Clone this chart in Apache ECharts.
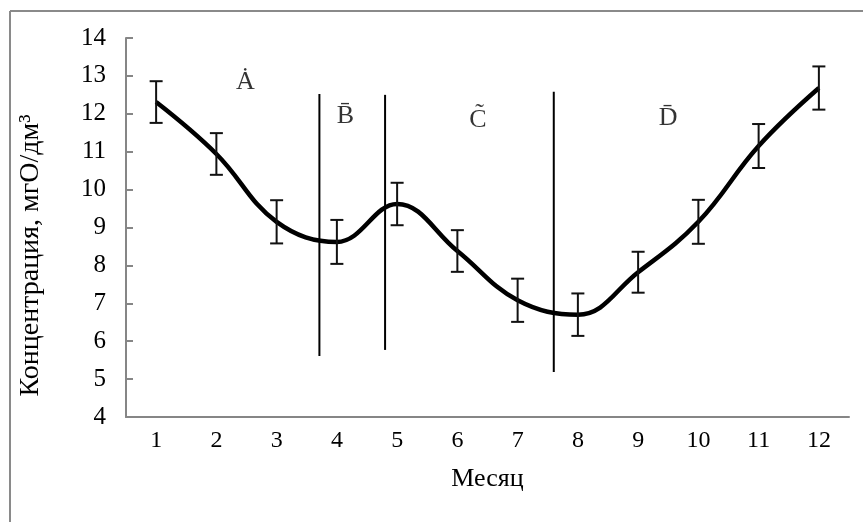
<!DOCTYPE html>
<html>
<head>
<meta charset="utf-8">
<script src="https://cdn.jsdelivr.net/npm/echarts@6/dist/echarts.min.js"></script>
<style>html,body{margin:0;padding:0;background:#fff}#c{width:863px;height:522px}</style>
</head>
<body>
<div id="c"></div>
<script>
// ---- data ----
const months = ['1','2','3','4','5','6','7','8','9','10','11','12'];
const monthNum = [1,2,3,4,5,6,7,8,9,10,11,12];
const concentration = [12.31, 10.94, 9.15, 8.62, 9.62, 8.38, 7.08, 6.70, 7.82, 9.15, 11.15, 12.68];
const errorSize = [0.55, 0.55, 0.57, 0.58, 0.56, 0.55, 0.57, 0.56, 0.54, 0.58, 0.58, 0.57];
const dividerX = [3.71, 4.80, 7.60];
const dividerLow = [5.61, 5.77, 5.19];
const dividerHigh = [12.52, 12.50, 12.58];
const zoneNames = ['A\u0307', 'B\u0304', 'C\u0303', 'D\u0304'];
const zoneX = [2.48, 4.14, 6.34, 9.50];
const zoneY = [12.84, 11.94, 11.84, 11.89];

const font = '"Liberation Serif", "DejaVu Serif", serif';
const chart = echarts.init(document.getElementById('c'), null, {renderer: 'canvas'});

const lineData = monthNum.map((m, i) => [m, concentration[i]]);
const errData = monthNum.map((m, i) => [m, concentration[i] - errorSize[i], concentration[i] + errorSize[i]]);
const divData = dividerX.map((x, i) => [x, dividerLow[i], dividerHigh[i]]);
const zoneData = zoneX.map((x, i) => ({value: [x, zoneY[i]], name: zoneNames[i]}));

chart.setOption({
  animation: false,
  backgroundColor: '#fff',
  graphic: [
    {type: 'line', shape: {x1: 10, y1: 11, x2: 863, y2: 11}, style: {stroke: '#8a8a8a', lineWidth: 2}},
    {type: 'line', shape: {x1: 10, y1: 11, x2: 10, y2: 522}, style: {stroke: '#8a8a8a', lineWidth: 2}}
  ],
  grid: {left: 126, top: 38, right: 14, bottom: 105},
  xAxis: [
    {
      type: 'category', data: months, boundaryGap: true,
      axisLine: {lineStyle: {color: '#868686', width: 2}},
      axisTick: {show: false},
      axisLabel: {color: '#000', fontFamily: font, fontSize: 24, margin: 12},
      name: 'Месяц', nameLocation: 'middle', nameGap: 49,
      nameTextStyle: {color: '#000', fontFamily: font, fontSize: 26}
    },
    {
      type: 'value', min: 0.5, max: 12.5, show: false
    }
  ],
  yAxis: {
    type: 'value', min: 4, max: 14, interval: 1,
    axisLine: {show: true, lineStyle: {color: '#868686', width: 2}},
    axisTick: {show: true, inside: true, length: 7, lineStyle: {color: '#868686', width: 2}},
    splitLine: {show: false},
    axisLabel: {color: '#000', fontFamily: font, fontSize: 25, margin: 20},
    name: 'Концентрация, мгО/дм³', nameLocation: 'middle', nameGap: 81,
    nameTextStyle: {color: '#000', fontFamily: font, fontSize: 28, padding: [0, 56, 0, 0]}
  },
  series: [
    {
      type: 'custom', xAxisIndex: 1, data: divData, z: 2,
      renderItem: function (params, api) {
        const p1 = api.coord([api.value(0), api.value(1)]);
        const p2 = api.coord([api.value(0), api.value(2)]);
        return {type: 'line', shape: {x1: p1[0], y1: p1[1], x2: p2[0], y2: p2[1]},
                style: {stroke: '#000', lineWidth: 2}};
      }
    },
    {
      type: 'line', xAxisIndex: 1, data: lineData, smooth: 0.4,
      symbol: 'none', z: 3,
      lineStyle: {color: '#000', width: 4.5}
    },
    {
      type: 'custom', xAxisIndex: 1, data: errData, z: 4,
      renderItem: function (params, api) {
        const lo = api.coord([api.value(0), api.value(1)]);
        const hi = api.coord([api.value(0), api.value(2)]);
        const w = 6.5;
        const st = {stroke: '#111', lineWidth: 2};
        return {type: 'group', children: [
          {type: 'line', shape: {x1: lo[0], y1: lo[1], x2: hi[0], y2: hi[1]}, style: st},
          {type: 'line', shape: {x1: lo[0] - w, y1: lo[1], x2: lo[0] + w, y2: lo[1]}, style: st},
          {type: 'line', shape: {x1: hi[0] - w, y1: hi[1], x2: hi[0] + w, y2: hi[1]}, style: st}
        ]};
      }
    },
    {
      type: 'scatter', xAxisIndex: 1, data: zoneData, symbolSize: 0, z: 5,
      label: {show: true, position: 'inside', formatter: '{b}', color: '#000',
              fontFamily: font, fontSize: 26}
    }
  ]
});
</script>
</body>
</html>
